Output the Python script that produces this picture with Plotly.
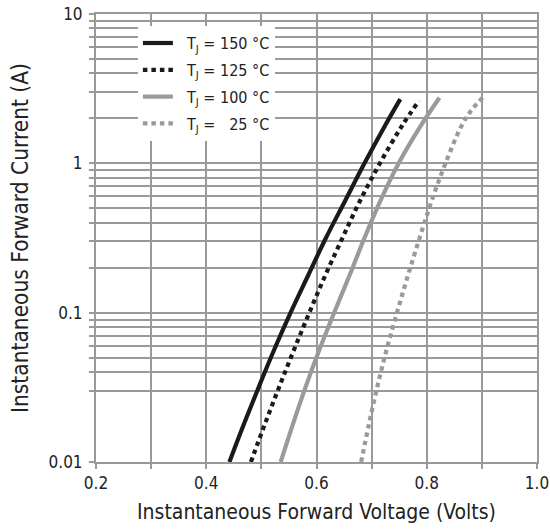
import plotly.graph_objects as go

# ---- data (current in A at each voltage in V) ----
i_nodes = [0.010, 0.0178, 0.0316, 0.0562, 0.100, 0.178, 0.316, 0.562, 1.00, 1.78]

v_150 = [0.442, 0.468, 0.495, 0.523, 0.553, 0.585, 0.617, 0.652, 0.687, 0.724, 0.752]
i_150 = i_nodes + [2.69]

v_125 = [0.481, 0.506, 0.532, 0.559, 0.587, 0.616, 0.647, 0.679, 0.715, 0.755, 0.786]
i_125 = i_nodes + [2.63]

v_100 = [0.535, 0.557, 0.580, 0.605, 0.632, 0.660, 0.687, 0.716, 0.749, 0.789, 0.823]
i_100 = i_nodes + [2.75]

v_25 = [0.681, 0.695, 0.710, 0.727, 0.746, 0.766, 0.787, 0.809, 0.834, 0.863, 0.880, 0.903]
i_25 = i_nodes + [2.24, 2.79]

x_major = [0.2, 0.4, 0.6, 0.8, 1.0]
x_labels = ["0.2", "0.4", "0.6", "0.8", "1.0"]
x_minor = [0.3, 0.5, 0.7, 0.9]

y_major = [0.01, 0.1, 1, 10]
y_labels = ["0.01", "0.1", "1", "10"]
y_minor = [9, 8, 7, 6, 5, 4, 3, 2,
           0.9, 0.8, 0.7, 0.6, 0.5, 0.4, 0.3, 0.2,
           0.09, 0.08, 0.07, 0.06, 0.05, 0.04, 0.03]

names = ["T<sub>J</sub> = 150 °C", "T<sub>J</sub> = 125 °C",
         "T<sub>J</sub> = 100 °C", "T<sub>J</sub> =\u00a0\u00a0\u00a025 °C"]

FONT = "Liberation Sans Narrow, DejaVu Sans Condensed, Arial Narrow, sans-serif"
BLACK = "#1a1a1a"
GRAY = "#9a9a9b"
GRID = "#9a9a9a"
TXT = "#222222"

fig = go.Figure()
series = [
    (v_150, i_150, BLACK, "solid"),
    (v_125, i_125, BLACK, "4.5px,4px"),
    (v_100, i_100, GRAY, "solid"),
    (v_25, i_25, GRAY, "4.5px,4px"),
]
for k, ((vx, iy, col, dash), nm) in enumerate(zip(series, names)):
    fig.add_trace(go.Scatter(
        x=vx, y=iy, mode="lines", name="\u00a0\u00a0" + nm,
        legendgroup=f"g{k}",
        line=dict(color=col, width=4.2, dash=dash, shape="spline", smoothing=1.0),
    ))

fig.update_layout(
    width=550, height=529,
    margin=dict(l=96, r=13, t=14, b=67),
    paper_bgcolor="white", plot_bgcolor="white",
    font=dict(family=FONT, size=17, color=TXT),
    showlegend=True,
    legend=dict(
        x=0.095, y=0.973, xanchor="left", yanchor="top",
        bgcolor="white", borderwidth=0,
        font=dict(family=FONT, size=16, color=TXT),
        traceorder="grouped", tracegroupgap=3,
        itemwidth=30,
    ),
)
common = dict(
    showgrid=True, gridcolor=GRID, gridwidth=1.8,
    showline=True, linecolor=GRID, linewidth=2, mirror=True,
    ticks="outside", ticklen=5, tickcolor=GRID, tickwidth=1.8,
    zeroline=False, automargin=False,
)
fig.update_xaxes(
    range=[0.2, 1.0], tickmode="array", tickvals=x_major, ticktext=x_labels,
    minor=dict(tickmode="array", tickvals=x_minor, ticks="outside", ticklen=5,
               tickcolor=GRID, tickwidth=1.8, showgrid=True, gridcolor=GRID, gridwidth=1.8),
    title=dict(text="Instantaneous Forward Voltage (Volts)",
               font=dict(family=FONT, size=21, color=TXT), standoff=12),
    **common,
)
fig.update_yaxes(
    type="log", range=[-2, 1], tickmode="array", tickvals=y_major, ticktext=y_labels,
    minor=dict(tickmode="array", tickvals=y_minor, ticks="outside", ticklen=5,
               tickcolor=GRID, tickwidth=1.8, showgrid=True, gridcolor=GRID, gridwidth=1.8),
    ticklabelstandoff=3,
    title=dict(text="Instantaneous Forward Current (A)",
               font=dict(family=FONT, size=22.5, color=TXT), standoff=14),
    **common,
)

fig.write_html("out.html", config={"displayModeBar": False},
               post_script="document.body.style.margin='0';document.body.style.overflow='hidden';")
